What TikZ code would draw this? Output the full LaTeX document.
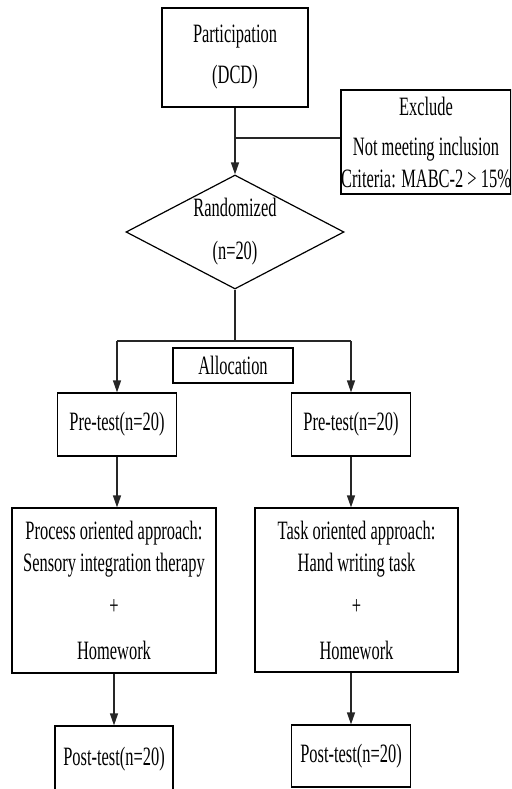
\documentclass[tikz,border=0pt]{standalone}
\usepackage{fontspec}
\setmainfont[FakeStretch=0.62]{Liberation Serif}
\usetikzlibrary{shapes.geometric,arrows.meta}
\begin{document}
\begin{tikzpicture}[x=1pt,y=-1pt,
  every node/.style={font=\fontsize{26.5}{32}\selectfont, inner sep=0pt, align=center},
  box/.style={draw=black, line width=1.2pt, rectangle},
  dia/.style={draw=black, line width=1.2pt, diamond, aspect=1.91},
  conn/.style={draw=black!85, line width=1.2pt},
  arr/.style={conn, -{Triangle[width=8pt,length=12pt]}}]
\useasboundingbox (0,0) rectangle (511,789);
\clip (0,0) rectangle (511,789);

\node[box, minimum width=146pt, minimum height=99pt] (part) at (235,57.5)
  {Participation\\[9pt](DCD)};
\node[box, minimum width=168pt, minimum height=104pt] (excl) at (426,142)
  {Exclude\\[8pt]Not meeting inclusion\\Criteria: MABC-2 > 15\%};
\node[dia, minimum width=218pt, minimum height=114pt] (rand) at (235,232)
  {Randomized\\[11pt](n=20)};
\node[box, minimum width=120pt, minimum height=35pt] (alloc) at (233,365.5)
  {Allocation};
\node[box, minimum width=119pt, minimum height=63pt] (preL) at (117,424.5)
  {Pre-test(n=20)};
\node[box, minimum width=119pt, minimum height=63pt] (preR) at (351,424.5)
  {Pre-test(n=20)};
\node[box, minimum width=204pt, minimum height=165pt] (proc) at (114,590.5)
  {Process oriented approach:\\Sensory integration therapy\\[11pt]+\\[13pt]Homework};
\node[box, minimum width=203pt, minimum height=164pt] (task) at (356.5,590)
  {Task oriented approach:\\Hand writing task\\[11pt]+\\[13pt]Homework};
\node[box, minimum width=118pt, minimum height=66pt] (postL) at (114,759)
  {Post-test(n=20)};
\node[box, minimum width=119pt, minimum height=62pt] (postR) at (351,756)
  {Post-test(n=20)};

\coordinate (j) at (235,138);
\coordinate (split) at (235,341);

\draw[arr] (part.south) -- (rand.north);
\draw[conn] (j) -- (j -| excl.west);
\draw[conn] (rand.south) -- (split);
\draw[conn] (preL.north |- split) -- (preR.north |- split);
\draw[arr] (preL.north |- split) -- (preL.north);
\draw[arr] (preR.north |- split) -- (preR.north);
\draw[arr] (preL.south) -- (preL.south |- proc.north);
\draw[arr] (preR.south) -- (preR.south |- task.north);
\draw[arr] (postL.north |- proc.south) -- (postL.north);
\draw[arr] (task.south -| postR.north) -- (postR.north);
\end{tikzpicture}
\end{document}
